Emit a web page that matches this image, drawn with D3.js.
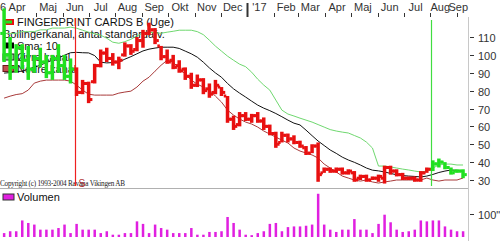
<!DOCTYPE html>
<html><head><meta charset="utf-8">
<script src="https://cdn.jsdelivr.net/npm/d3@7/dist/d3.min.js"></script>
<style>body{margin:0;background:#fff;} svg{display:block;font-family:"Liberation Sans",Arial,sans-serif;}</style>
</head><body><svg id="c" width="500" height="242"></svg>
<script>
// ---- data ----
const firstWeek = new Date(2016, 2, 25);
const opens  = [112,100,93,104,97,92,98,96,90,98,94,88, 92,79,84,85,94,101,98,96,100,105,103,108,112,114,105,99,97,94,92,88,83,86,81,79,82,77,64,61,66,64,66,63,60,56,51,55,53,51,48,45,49,34,36,35,36,34,34,31,32,30,31,31,37,35,33,31,31,30,34, 36,39,40,37,35,35];
const highs  = [126,110,106,106,105,100,104,100,100,106,100,98, 93,86,85,95,103,104,101,99,107,106,110,114,118,115,105,103,100,97,93,90,89,87,84,86,82,77,66,68,68,67,68,65,61,57,57,56,55,52,49,50,51,37,37,37,37,36,35,33,33,32,33,38,38,36,34,32,32,35,37, 41,42,40,37,36,36];
const lows   = [96,86,90,92,86,90,93,87,86,90,86,84, 77,78,73,84,93,96,94,92,99,100,102,104,111,106,97,95,92,90,86,81,82,78,76,78,77,62,58,60,63,62,62,58,55,48,51,51,50,48,44,45,29,34,34,34,33,33,29,30,29,30,29,28,33,32,30,30,29,29,34, 35,37,36,33,34,31];
const closes = [100,93,104,97,92,98,96,90,98,94,88,92, 79,84,75,94,101,98,96,97,105,102,108,112,114,108,99,96,93,91,88,83,86,80,78,83,79,64,60,66,64,66,63,60,56,50,55,53,51,49,45,49,33,36,35,36,34,35,30,32,30,31,32,37,35,33,31,31,30,34,36, 39,40,37,34,35,33];
const trend  = "uuuuuuuuuuuu" + "d".repeat(59) + "uuuuuu";
const midBand   = [89.8,90.1,90.6,90.9,92.0,93.1,94.2,95.7,97.0,98.4,99.8,101.2,101.4,101.2,101.1,99.6,95.9,95.5,95.7,95.9,97.6,99.0,100.6,102.2,103.2,103.8,104.3,104.3,104.3,103.6,102.1,100.6,98.7,95.9,92.7,89.9,87.5,84.0,81.0,78.6,76.4,74.1,71.9,70.2,68.8,67.2,65.4,63.5,61.8,60.8,57.9,54.8,51.8,49.3,46.8,44.9,42.8,41.2,39.9,38.4,36.7,35.5,35.1,34.5,33.7,32.9,32.5,32.2,32.0,31.7,32.2,33.1,34.2,35.0,35.6,35.4,34.8];
const upperBand = [112,112,112,113,113,113,114,114,115,115,115,115.5,114.9,113.8,112.7,111.8,111.0,109.3,107.1,106.5,107.4,108.7,110.7,112.1,112.7,112.4,112.1,112.7,113.2,113.8,113.8,113.8,113.0,111.3,108.2,104.9,102.1,99.3,97.0,94.8,93.4,90.3,86.4,83.1,80.3,74.7,69.1,66.9,65.8,64.6,63.5,62.4,61.0,59.6,58.2,57.4,56.8,56.3,54.9,53.5,51.2,47.9,37.8,37.8,37.3,36.7,36.1,35.6,35.0,34.5,35.0,36.7,38.4,38.9,38.9,38.4,38.4];
const lowerBand = [75.8,76.9,77.8,78.3,80.3,84.2,85.3,85.9,85.9,85.9,85.9,85.3,83.1,80.3,78.0,77.5,77.5,77.5,77.5,78.6,79.2,79.7,82.0,85.3,87.5,90.9,94.2,97.0,95.9,92.6,89.2,85.9,83.6,82.0,80.3,76.9,73.6,69.1,66.3,64.1,62.4,61.3,59.6,57.4,55.7,54.0,52.3,50.7,47.9,46.2,45.1,44.0,42.3,38.9,36.7,34.5,32.2,31.1,30.0,29.4,30.0,28.9,28.3,28.9,29.4,30.0,30.0,30.0,30.0,30.0,31.1,30.0,29.4,30.0,30.0,30.0,31.1];
const volumes = [17,25,25,72,61,54,32,32,32,39,54,17,57,32,32,32,17,25,10,10,17,17,68,57,17,54,39,32,17,17,17,39,10,10,22,22,25,87,61,32,10,8,17,25,57,61,25,43,46,46,49,54,188,54,32,22,32,32,78,32,32,17,57,97,64,32,22,25,32,72,68,72,72,46,32,25,25];
const monthLabels = ["6 Apr","Maj","Jun","Jul","Aug","Sep","Okt","Nov","Dec","'17","Feb","Mar","Apr","Maj","Jun","Jul","Aug","Sep"];
const priceTicks = [30,40,50,60,70,80,90,100,110];
const volumeTicks = [100];
const volumeTickLabels = ['100"'];
const legendLabels = ["FINGERPRINT CARDS B (Uge)","Bollingerkanal, antal standardafv.","Sma: 10","Øvre kanal","Nedre kanal"];
const sellIndex = 12, buyIndex = 71;

// ---- build ----
const bars = opens.map((o,i)=>({date:d3.timeDay.offset(firstWeek,7*i),o,h:highs[i],l:lows[i],c:closes[i],t:trend[i],v:volumes[i],mid:midBand[i],up:upperBand[i],lo:lowerBand[i]}));
const svg = d3.select("#c");
const PR = 468;
const x = d3.scaleTime().domain([new Date(2016,4,1), new Date(2017,8,1)]).range([36,457]);
const y = d3.scaleLinear().domain([30,110]).range([180,37]);
const yv = d3.scaleLinear().domain([0,100]).range([237,214]);
const RED = "#e81010", GREEN = "#20e020";

svg.append("rect").attr("width",500).attr("height",242).attr("fill","#fff");

// frame lines
svg.append("line").attr("x1",0).attr("x2",PR).attr("y1",188.5).attr("y2",188.5).attr("stroke","#b0b0b0");
svg.append("line").attr("x1",PR+0.5).attr("x2",PR+0.5).attr("y1",17).attr("y2",241).attr("stroke","#c8c8c8");

// top month axis
const months = d3.timeMonth.range(new Date(2016,3,1), new Date(2017,9,1));
months.forEach((m,i)=>{
  const tx = Math.round(x(m))+0.5;
  if (tx > 15 && tx < PR) {
    const yr = m.getMonth()===0;
    svg.append("line").attr("x1",tx).attr("x2",tx).attr("y1",yr?3:13).attr("y2",17)
      .attr("stroke","#333").attr("stroke-width",yr?2:1);
  }
  const label = monthLabels[i];
  const t = svg.append("text").attr("y",11).attr("font-size",11).attr("fill","#333").text(label);
  const w = t.node().getComputedTextLength();
  let cx = x(new Date(m.getFullYear(), m.getMonth(), 15));
  cx = Math.max(w/2, Math.min(PR - w/2, cx));
  if (i===0) cx = w/2;
  if (i===monthLabels.length-2) cx -= 2;
  t.attr("x", cx).attr("text-anchor","middle");
});

// right price axis
const ax = svg.append("g");
priceTicks.forEach(v=>{
  const ty = Math.round(y(v))+0.5;
  ax.append("line").attr("x1",PR+2).attr("x2",PR+6).attr("y1",ty).attr("y2",ty).attr("stroke","#333");
  ax.append("text").attr("x",478).attr("y",ty+4).attr("font-size",11).attr("fill","#333").text(v);
});
volumeTicks.forEach((v,i)=>{
  const ty = Math.round(yv(v))+0.5;
  ax.append("line").attr("x1",PR+2).attr("x2",PR+6).attr("y1",ty).attr("y2",ty).attr("stroke","#333");
  ax.append("text").attr("x",478).attr("y",ty+4).attr("font-size",11).attr("fill","#333").text(volumeTickLabels[i]);
});

// legend (under the data)
const lg = svg.append("g").attr("font-size",11).attr("fill","#111");
const rowsY = [22,34,45.5,57,68.5];
lg.append("rect").attr("x",3).attr("y",19).attr("width",11).attr("height",6).attr("fill",RED);
lg.append("rect").attr("x",6).attr("y",20.5).attr("width",6).attr("height",3).attr("fill",GREEN);
lg.append("rect").attr("x",3).attr("y",42.5).attr("width",11).attr("height",6).attr("fill","#000");
lg.append("rect").attr("x",3).attr("y",54).attr("width",11).attr("height",6).attr("fill","#7fd07f").attr("stroke","#222");
lg.append("rect").attr("x",3).attr("y",65.5).attr("width",11).attr("height",6).attr("fill","#c05050").attr("stroke","#6a1a1a");
legendLabels.forEach((s,i)=>{
  lg.append("text").attr("x", i===1?3:17).attr("y",rowsY[i]+4).text(s);
});

// copyright
svg.append("text").attr("x",0).attr("y",186).attr("font-family","Liberation Serif, serif").attr("font-size",7.2)
  .attr("textLength",125).attr("fill","#222").text("Copyright (c) 1993-2004 Ravana Vikingen AB");

// bands
const mk = key => d3.line().x(d=>x(d.date)).y(d=>y(d[key]));
svg.append("path").datum(bars).attr("d",mk("up")).attr("fill","none").attr("stroke","#6fd86f").attr("stroke-width",1);
svg.append("path").datum(bars).attr("d",mk("lo")).attr("fill","none").attr("stroke","#a83a3a").attr("stroke-width",1);
svg.append("path").datum(bars).attr("d",mk("mid")).attr("fill","none").attr("stroke","#111").attr("stroke-width",1);

// signal lines
const sx = Math.round(x(bars[sellIndex].date)-2)+0.5;
const bx = Math.round(x(bars[buyIndex].date)-2)+0.5;
svg.append("line").attr("x1",sx).attr("x2",sx).attr("y1",18).attr("y2",186).attr("stroke","#ee2020").attr("stroke-width",1.2);
svg.append("line").attr("x1",bx).attr("x2",bx).attr("y1",20).attr("y2",186).attr("stroke","#40dd40").attr("stroke-width",1.2);
svg.append("text").attr("x",sx+3).attr("y",187).attr("font-size",10).attr("fill","#b03030").text("S");

// price bars
const bg = svg.append("g");
const col = d => d.t==="u" ? GREEN : RED;
bg.selectAll(".hl").data(bars).join("rect").attr("x",d=>x(d.date)-1.75).attr("y",d=>y(d.h))
  .attr("width",3.5).attr("height",d=>Math.max(2,y(d.l)-y(d.h))).attr("fill",col);
bg.selectAll(".op").data(bars).join("rect").attr("x",d=>x(d.date)-3.75).attr("y",d=>y(d.o)-1.5)
  .attr("width",2.5).attr("height",3).attr("fill",col);
bg.selectAll(".cl").data(bars).join("rect").attr("x",d=>x(d.date)+1.25).attr("y",d=>y(d.c)-1.5)
  .attr("width",2.5).attr("height",3).attr("fill",col);

// volume
svg.append("rect").attr("x",3).attr("y",194).attr("width",11).attr("height",6).attr("fill","#e020e0").attr("stroke","#333");
svg.append("text").attr("x",17).attr("y",201).attr("font-size",11).attr("fill","#111").text("Volumen");
svg.append("g").selectAll("rect").data(bars).join("rect")
  .attr("x",d=>x(d.date)-1.2).attr("y",d=>yv(d.v)).attr("width",2.5).attr("height",d=>yv(0)-yv(d.v)).attr("fill","#e020e0");
</script></body></html>
